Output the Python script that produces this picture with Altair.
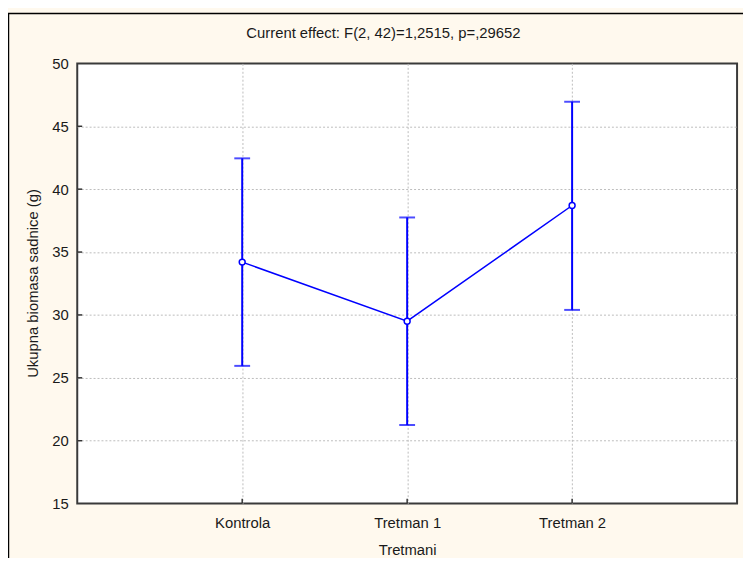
import altair as alt
import pandas as pd

groups = ["Kontrola", "Tretman 1", "Tretman 2"]
means = [34.2, 29.5, 38.7]
lower = [25.95, 21.25, 30.4]
upper = [42.45, 37.75, 46.95]
y_ticks = [15, 20, 25, 30, 35, 40, 45, 50]
inner_ticks = [20, 25, 30, 35, 40, 45]

title_text = "Current effect: F(2, 42)=1,2515, p=,29652"
x_title = "Tretmani"
y_title = "Ukupna biomasa sadnice (g)"

df = pd.DataFrame({"group": groups, "mean": means, "lo": lower, "hi": upper})
tick_df = pd.DataFrame({"v": inner_ticks})

FONT = "Liberation Sans, Arial, sans-serif"
FS = 15
BLUE = "#0000FF"
TXT = "#1a1a1a"

x_axis = alt.Axis(
    title=x_title,
    labelAngle=0, labelAlign="center", labelBaseline="top",
    labelFont=FONT, labelFontSize=FS, labelColor=TXT, labelPadding=12,
    titleFont=FONT, titleFontSize=FS, titleColor=TXT, titleFontWeight="normal",
    titlePadding=12,
    ticks=False, domain=False,
    grid=True, gridColor="#bcbcbc", gridDash=[2, 2], gridWidth=1,
)

def xe():
    return alt.X("group:N", sort=groups, scale=alt.Scale(type="point", padding=1), axis=x_axis)

y_enc = alt.Y(
    "mean:Q",
    scale=alt.Scale(domain=[15, 50], nice=False, zero=False),
    axis=alt.Axis(
        title=y_title,
        values=y_ticks,
        labelFont=FONT, labelFontSize=FS, labelColor=TXT, labelPadding=9,
        titleFont=FONT, titleFontSize=FS, titleColor=TXT, titleFontWeight="normal",
        titleX=-45, titleY=222, titleBaseline="middle", titleAngle=270,
        ticks=False, domain=False,
        grid=True, gridColor="#bcbcbc", gridDash=[2, 2], gridWidth=1,
        gridOpacity=alt.condition("datum.value == 15 || datum.value == 50", alt.value(0), alt.value(1)),
    ),
)

base = alt.Chart(df)

bars = base.mark_rule(color=BLUE, strokeWidth=2).encode(x=xe(), y=alt.Y("lo:Q"), y2="hi:Q")
cap_hi = base.mark_tick(color=BLUE, thickness=2, size=16).encode(x=xe(), y="hi:Q")
cap_lo = base.mark_tick(color=BLUE, thickness=2, size=16).encode(x=xe(), y="lo:Q")
line = base.mark_line(color=BLUE, strokeWidth=1.5).encode(x=xe(), y=y_enc)
pts = base.mark_point(shape="circle", size=36, filled=True, fill="white", stroke=BLUE, strokeWidth=1.5, opacity=1).encode(
    x=xe(), y="mean:Q"
)

# small inward axis ticks
yticks_in = alt.Chart(tick_df).mark_rule(color="#333333", strokeWidth=1.5).encode(
    y="v:Q", x=alt.value(0), x2=alt.value(5)
)
xticks_in = base.mark_rule(color="#333333", strokeWidth=1.5).encode(
    x=xe(), y=alt.value(445), y2=alt.value(440)
)

frame = alt.Chart(pd.DataFrame({"k": [0]})).mark_rect(
    fillOpacity=0, stroke="black", strokeWidth=1.5
).encode(
    x=alt.value(-69.5), x2=alt.value(760), y=alt.value(-50.5), y2=alt.value(620)
)

chart = alt.layer(line, bars, cap_hi, cap_lo, pts, yticks_in, xticks_in, frame).properties(
    width=667,
    height=445,
    padding={"left": 70, "top": 53, "right": 6, "bottom": 52},
    autosize=alt.AutoSizeParams(type="none"),
    title=alt.Title(
        title_text, font=FONT, fontSize=FS, fontWeight="normal", color=TXT,
        anchor="middle", frame="group", offset=-29, dx=-24,
    ),
).configure(
    background="#FFF9EE"
).configure_view(
    fill="white", stroke="#3a3a3a", strokeWidth=2
)

chart.save("out.html", embed_options={"renderer": "svg", "actions": False})
